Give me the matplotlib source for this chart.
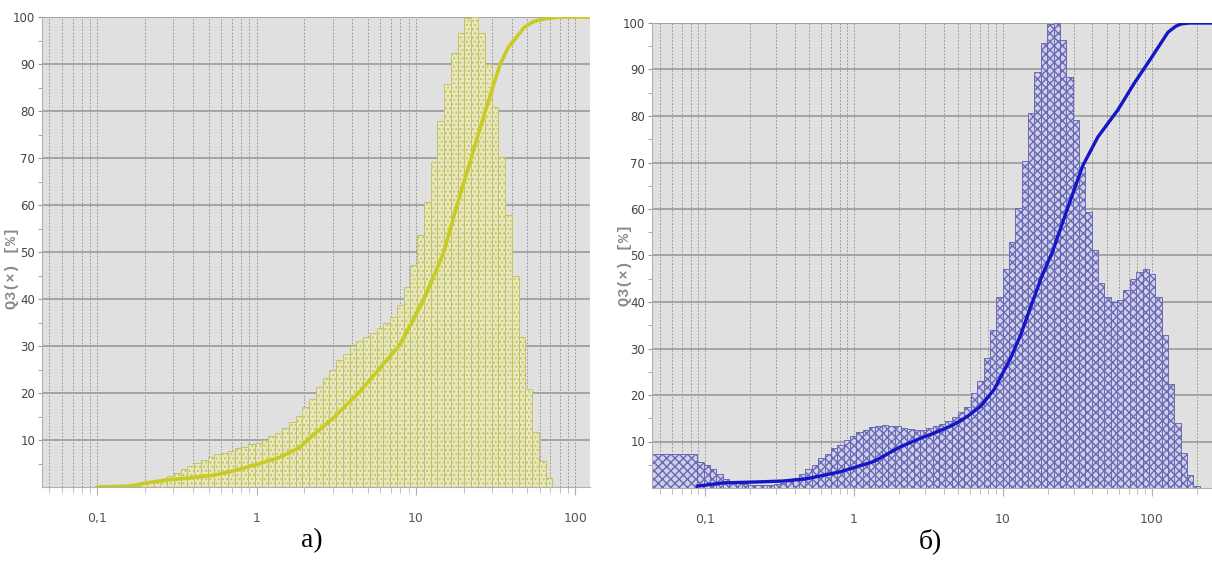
import matplotlib
matplotlib.use('Agg')
import matplotlib.pyplot as plt
import numpy as np
from matplotlib.ticker import FixedLocator, NullFormatter

# ---- data: a) ----
# q3 histogram (scaled to max = 100), size classes geometric from ~0.153 to ~72 um
a_bin_range = (-0.816, 1.857)   # log10 of first / last class edge
a_hist = [0.1, 0.3,
          0.6, 0.9, 1.3, 1.8, 2.3, 2.9, 3.8, 4.5, 5.2, 5.7, 6.3, 7.0, 7.3, 7.7, 8.2, 8.6, 9.1, 9.4, 10.0,
          10.8, 11.4, 12.5, 13.8, 15.2, 17.0, 18.7, 21.3, 23.1, 25.0, 27.0, 28.4, 29.9, 31.1, 31.9, 32.7, 33.8, 34.8,
          36.2, 38.7, 42.5, 47.2, 53.6, 60.7, 69.1, 77.9, 85.7, 92.3, 96.7, 99.7, 100.0, 96.7, 90.0, 80.9,
          70.2, 57.9, 44.9, 32.0, 20.8, 11.8, 5.6, 1.9]
a_cum_x = [0.10, 0.159, 0.20, 0.27, 0.40, 0.56, 0.75, 1.0, 1.4, 1.86, 2.15, 3.0, 4.45, 6.85, 7.9,
           9.5, 11.4, 14.9, 18.0, 22.4, 27.2, 33.7, 38.0, 43.0, 48.0, 54.5, 66.0, 80.0, 124.0]
a_cum_y = [0.0, 0.2, 0.8, 1.5, 2.0, 2.6, 3.6, 4.8, 6.3, 8.4, 10.4, 14.5, 20.3, 27.7, 30.2,
           35.2, 40.5, 49.7, 59.6, 70.3, 79.8, 89.8, 93.5, 95.8, 97.8, 99.0, 99.7, 100.0, 100.0]

# ---- data: б) ----
b_first_class = (0.044, 0.0887, 7.3)   # wide first class: from, to, height
b_bin_range = (-1.052, 2.323)
b_hist = [5.5, 4.9, 4.0, 3.1, 2.0, 1.5, 1.0, 0.8, 0.7, 0.7, 0.7, 0.7, 0.8, 1.0, 1.6, 2.2,
          3.1, 4.0, 4.9, 6.4, 7.3, 8.6, 9.3, 10.4, 11.2, 12.0, 12.5, 13.1, 13.4, 13.6, 13.4, 13.3,
          13.0, 12.7, 12.5, 12.5, 12.8, 13.3, 13.8, 14.5, 15.2, 16.3, 17.5, 20.5, 23.0, 28.0,
          34.0, 41.0, 47.0, 53.0, 60.3, 70.4, 80.6, 89.4, 95.8, 99.8, 100.0, 96.4, 88.4, 79.1,
          69.0, 59.4, 51.2, 44.0, 41.0, 40.0, 40.5, 42.5, 45.0, 46.5, 47.0, 46.0, 41.0, 33.0,
          22.3, 14.0, 7.5, 2.8, 0.5]
b_cum_x = [0.0887, 0.133, 0.223, 0.336, 0.484, 0.811, 1.36, 2.06, 2.80, 3.45, 4.6, 5.78, 7.11, 8.74,
           11.3, 13.2, 15.4, 18.0, 21.6, 27.3, 34.4, 43.5, 59.2, 76.5, 99.3, 128.5, 145.0, 158.0, 180.0, 254.0]
b_cum_y = [0.4, 1.1, 1.3, 1.5, 2.0, 3.5, 5.7, 8.9, 10.7, 11.8, 13.5, 15.4, 17.6, 21.2,
           28.0, 33.0, 39.0, 45.0, 50.9, 60.3, 69.3, 75.5, 81.3, 87.1, 92.5, 98.0, 99.3, 99.8, 100.0, 100.0]

y_ticks = [10, 20, 30, 40, 50, 60, 70, 80, 90, 100]
x_ticks = [0.1, 1, 10, 100]
x_labels = ['0,1', '1', '10', '100']

narrow = ['Liberation Sans Narrow', 'DejaVu Sans']

fig = plt.figure(figsize=(12.12, 5.64), dpi=100)
ax_a = fig.add_axes([42/1212, 77/564, 548/1212, 470/564])
ax_b = fig.add_axes([652/1212, 76/564, 560/1212, 465/564])


def style_axes(ax, xmin, xmax):
    ax.set_xscale('log')
    ax.set_xlim(xmin, xmax)
    ax.set_ylim(0, 100)
    ax.set_facecolor('#e0e0e0')
    minors = [m * 10.0**d for d in range(-2, 3) for m in range(1, 10)]
    minors = [v for v in minors if xmin < v < xmax]
    for v in minors:
        ax.axvline(v, color='#8a8a8a', lw=0.6, ls=(0, (2, 2)), zorder=1)
    for v in y_ticks:
        ax.axhline(v, color='#a4a4a4', lw=1.4, zorder=1)
    ax.xaxis.set_major_locator(FixedLocator(x_ticks))
    ax.set_xticklabels(x_labels, family=narrow, fontsize=9, color='#555555')
    ax.xaxis.set_minor_locator(FixedLocator(minors))
    ax.xaxis.set_minor_formatter(NullFormatter())
    ax.set_yticks(y_ticks)
    ax.set_yticklabels([str(v) for v in y_ticks], family=narrow, fontsize=8.5, color='#444444')
    ax.set_yticks(list(range(5, 100, 10)), minor=True)
    ax.tick_params(axis='x', which='major', length=6, color='#b0b0b0', pad=12, direction='out')
    ax.tick_params(axis='x', which='minor', length=4, color='#b8b8b8', direction='out')
    ax.tick_params(axis='y', which='both', length=3, color='#999999', pad=2)
    for s in ['top', 'right']:
        ax.spines[s].set_visible(False)
    ax.spines['left'].set_color('#b0b0b0')
    ax.spines['bottom'].set_color('#b0b0b0')


# a)
style_axes(ax_a, 0.045, 124)
a_edges = np.logspace(a_bin_range[0], a_bin_range[1], len(a_hist) + 1)
ax_a.bar(a_edges[:-1], a_hist, width=np.diff(a_edges), align='edge',
         color='#e8e8c2', edgecolor='#c4c466', lw=0.7, hatch='....', zorder=2)
ax_a.plot(a_cum_x, a_cum_y, color='#c8cc22', lw=2.6, zorder=3)

# б)
style_axes(ax_b, 0.044, 254)
b_edges = np.logspace(b_bin_range[0], b_bin_range[1], len(b_hist) + 1)
ax_b.bar(b_first_class[0], b_first_class[2], width=b_first_class[1] - b_first_class[0], align='edge',
         color='#d0d0ea', edgecolor='#6a6ab4', lw=0.7, hatch='xxxx', zorder=2)
ax_b.bar(b_edges[:-1], b_hist, width=np.diff(b_edges), align='edge',
         color='#d0d0ea', edgecolor='#6a6ab4', lw=0.7, hatch='xxxx', zorder=2)
ax_b.plot(b_cum_x, b_cum_y, color='#1616c8', lw=2.4, zorder=3)

# rotated axis titles
mono = ['Liberation Mono', 'DejaVu Sans Mono']
fig.text(12/1212, 1 - 268/564, 'Q3(×) [%]', family=mono, fontweight='bold', fontsize=11,
         color='#8a8a8a', rotation=90, ha='center', va='center')
fig.text(625/1212, 1 - 265/564, 'Q3(×) [%]', family=mono, fontweight='bold', fontsize=11,
         color='#8a8a8a', rotation=90, ha='center', va='center')

fig.text(312/1212, 1 - 541/564, 'а)', family=['Liberation Serif', 'DejaVu Serif'], fontsize=20,
         ha='center', va='center')
fig.text(930/1212, 1 - 541/564, 'б)', family=['Liberation Serif', 'DejaVu Serif'], fontsize=20,
         ha='center', va='center')

fig.savefig('out.png', dpi=100)
